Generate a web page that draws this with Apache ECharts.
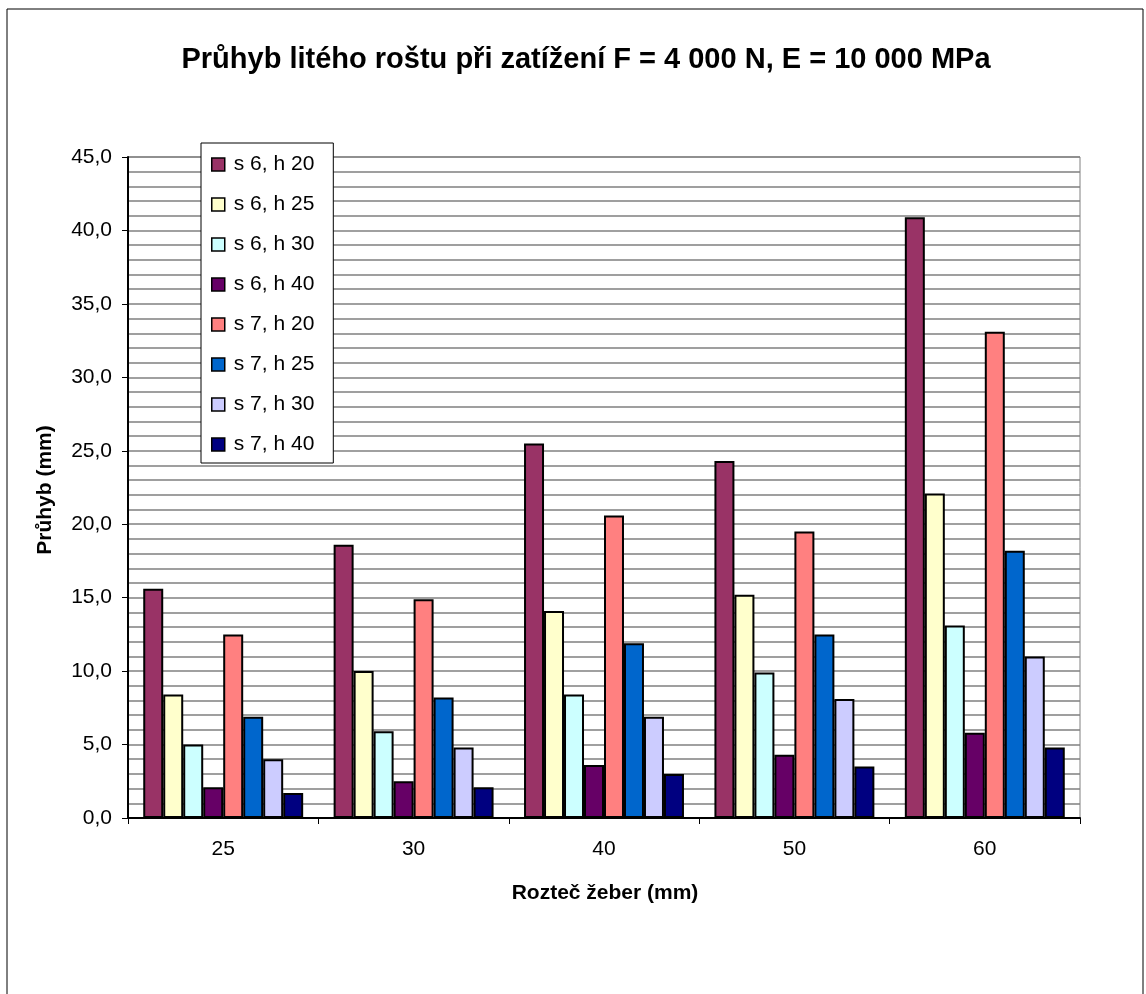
<!DOCTYPE html>
<html>
<head>
<meta charset="utf-8">
<script src="https://cdn.jsdelivr.net/npm/echarts@6/dist/echarts.min.js"></script>
<style>
html,body{margin:0;padding:0;background:#fff;}
#chart{width:1146px;height:994px;}
</style>
</head>
<body>
<div id="chart"></div>
<script>
const categories = ['25', '30', '40', '50', '60'];
const seriesNames = ['s 6, h 20', 's 6, h 25', 's 6, h 30', 's 6, h 40', 's 7, h 20', 's 7, h 25', 's 7, h 30', 's 7, h 40'];
const s6h20 = [15.6, 18.6, 25.5, 24.3, 40.9];
const s6h25 = [8.4, 10.0, 14.1, 15.2, 22.1];
const s6h30 = [5.0, 5.9, 8.4, 9.9, 13.1];
const s6h40 = [2.1, 2.5, 3.6, 4.3, 5.8];
const s7h20 = [12.5, 14.9, 20.6, 19.5, 33.1];
const s7h25 = [6.9, 8.2, 11.9, 12.5, 18.2];
const s7h30 = [4.0, 4.8, 6.9, 8.1, 11.0];
const s7h40 = [1.7, 2.1, 3.0, 3.5, 4.8];
const seriesData = [s6h20, s6h25, s6h30, s6h40, s7h20, s7h25, s7h30, s7h40];
const colors = ['#993366', '#FFFFCC', '#CCFFFF', '#660066', '#FF8080', '#0066CC', '#CCCCFF', '#000080'];
const yTicks = [0, 5, 10, 15, 20, 25, 30, 35, 40, 45];

const FONT = 'Liberation Sans, Arial, sans-serif';
const chart = echarts.init(document.getElementById('chart'), null, {renderer: 'canvas'});

const series = seriesNames.map((name, i) => ({
  name: name,
  type: 'bar',
  data: seriesData[i],
  barGap: '0%',
  barCategoryGap: '16%',
  itemStyle: {color: colors[i], borderColor: '#000', borderWidth: 2},
  emphasis: {disabled: true},
  animation: false
}));

chart.setOption({
  animation: false,
  backgroundColor: '#fff',
  title: {
    text: 'Průhyb litého roštu při zatížení F = 4 000 N, E = 10 000 MPa',
    left: 581, top: 40, textAlign: 'center',
    textStyle: {fontFamily: FONT, fontSize: 29, fontWeight: 'bold', color: '#000'}
  },
  legend: {
    orient: 'vertical',
    left: 201, top: 143,
    itemWidth: 13, itemHeight: 13, itemGap: 19,
    icon: 'rect',
    padding: [11, 19, 8, 10],
    backgroundColor: '#fff',
    borderColor: '#000', borderWidth: 1,
    textStyle: {fontFamily: FONT, fontSize: 21, color: '#000', padding: [0, 0, 0, 4]},
    itemStyle: {borderColor: '#000', borderWidth: 1.5},
    data: seriesNames,
    selectedMode: false
  },
  grid: {
    left: 128, right: 66, top: 157, bottom: 176,
    show: true, borderColor: '#808080', borderWidth: 1, backgroundColor: 'transparent'
  },
  xAxis: {
    type: 'category',
    data: categories,
    axisLine: {lineStyle: {color: '#000', width: 2}},
    axisTick: {show: true, length: 6, lineStyle: {color: '#000'}},
    axisLabel: {fontFamily: FONT, fontSize: 21, color: '#000', margin: 21},
    splitLine: {show: false}
  },
  yAxis: {
    type: 'value',
    min: yTicks[0], max: yTicks[yTicks.length - 1], interval: 5,
    axisLine: {show: true, lineStyle: {color: '#000', width: 2}},
    axisTick: {show: true, length: 6, lineStyle: {color: '#000'}},
    axisLabel: {fontFamily: FONT, fontSize: 21, color: '#000', margin: 16,
      formatter: v => v.toFixed(1).replace('.', ',')},
    splitLine: {show: true, lineStyle: {color: '#808080', width: 1.5}},
    minorTick: {show: false, splitNumber: 5},
    minorSplitLine: {show: true, lineStyle: {color: '#808080', width: 1.5}}
  },
  graphic: [
    {type: 'rect', shape: {x: 7, y: 9, width: 1136, height: 1010},
      style: {fill: 'none', stroke: '#000', lineWidth: 1}, z: -1, silent: true},
    {type: 'text', x: 605, y: 893,
      style: {text: 'Rozteč žeber (mm)', fontFamily: FONT, fontSize: 21, fontWeight: 'bold',
        fill: '#000', textAlign: 'center', textVerticalAlign: 'middle'}},
    {type: 'text', x: 45, y: 490, rotation: Math.PI / 2,
      style: {text: 'Průhyb (mm)', fontFamily: FONT, fontSize: 21, fontWeight: 'bold',
        fill: '#000', textAlign: 'center', textVerticalAlign: 'middle'}}
  ],
  series: series
});
</script>
</body>
</html>
